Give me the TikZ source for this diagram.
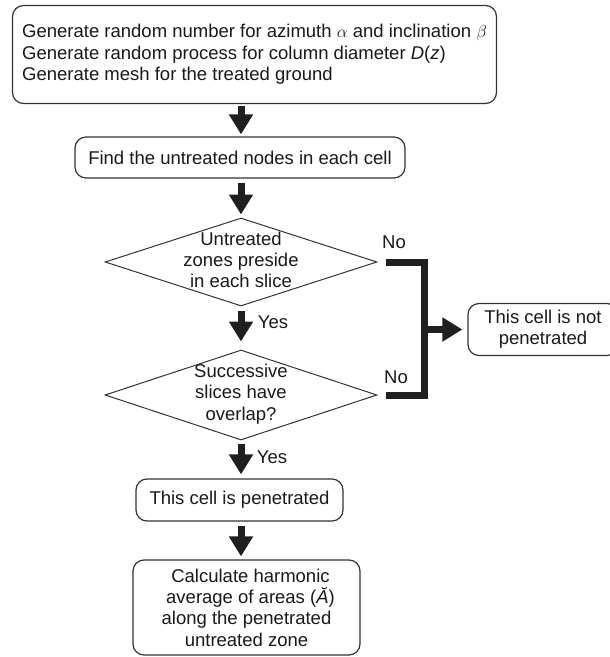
\documentclass[tikz,border=0pt]{standalone}
\usepackage{fontspec}
\setmainfont{Liberation Sans}
\usetikzlibrary{shapes.geometric,arrows.meta}
\begin{document}
\begin{tikzpicture}[x=1pt,y=-1pt,
  every node/.style={font=\fontsize{18.5}{21.3}\selectfont, text=black!90},
  rbox/.style={draw=black!80, line width=1.2pt, rounded corners=11pt, inner sep=0pt},
  dmd/.style={draw=black!80, line width=1pt, diamond, inner sep=0pt},
  bigarrow/.style={line width=7pt, draw=black!88, -{Triangle[width=23pt,length=20pt]}},
  bracketline/.style={line width=7pt, draw=black!88, line join=miter},
  lbl/.style={inner sep=0pt}]
\useasboundingbox (0,0) rectangle (610,657);
\coordinate (col) at (241,0);
\coordinate (bx) at (424,0);
\node[rbox, minimum width=484pt, minimum height=98pt, align=left] (box1) at (254.5,54.5)
  {Generate random number for azimuth $\alpha$ and inclination $\beta$\\
   Generate random process for column diameter \textit{D}(\textit{z})\\
   Generate mesh for the treated ground};
\node[rbox, minimum width=330pt, minimum height=41pt] (box2) at (240,157.5)
  {Find the untreated nodes in each cell};
\node[dmd, minimum width=272pt, minimum height=88pt] (d1) at (241,262) {};
\node[align=center, lbl] (t1) at (241,260) {Untreated\\zones preside\\in each slice};
\node[dmd, minimum width=272pt, minimum height=90pt] (d2) at (241,395) {};
\node[align=center, lbl] (t2) at (241,394) {Successive\\slices have\\overlap?};
\node[rbox, minimum width=207pt, minimum height=42pt] (box3) at (239.5,500)
  {This cell is penetrated};
\node[rbox, minimum width=227pt, minimum height=95pt, align=center] (box4) at (246.5,607.5)
  {\hspace*{8pt}Calculate harmonic\\\hspace*{8pt}average of areas (\textit{Ă})\\along the penetrated\\untreated zone};
\node[rbox, minimum width=150pt, minimum height=52pt, align=center] (box5) at (543,329.5)
  {This cell is not\\penetrated};
\node[lbl] (no1) at (394,242) {No};
\node[lbl] (no2) at (396,377) {No};
\node[lbl] (yes1) at (273,322) {Yes};
\node[lbl] (yes2) at (272,457) {Yes};
\draw[bigarrow, shorten <=2pt, shorten >=2pt] (box1.south -| col) -- (box2.north -| col);
\draw[bigarrow, shorten <=4pt, shorten >=3pt] (box2.south -| col) -- (d1.north);
\draw[bigarrow, shorten <=4pt, shorten >=8pt] (d1.south) -- (d2.north);
\draw[bigarrow, shorten <=3pt, shorten >=4pt] (d2.south) -- (box3.north -| col);
\draw[bigarrow, shorten <=4pt, shorten >=3pt] (box3.south -| col) -- (box4.north -| col);
\draw[bracketline] ([xshift=8pt]d1.east) -- (d1.east -| bx) -- (d2.east -| bx) -- ([xshift=8pt]d2.east);
\draw[bigarrow, shorten >=5pt] (bx |- box5.west) -- (box5.west);
\end{tikzpicture}
\end{document}
